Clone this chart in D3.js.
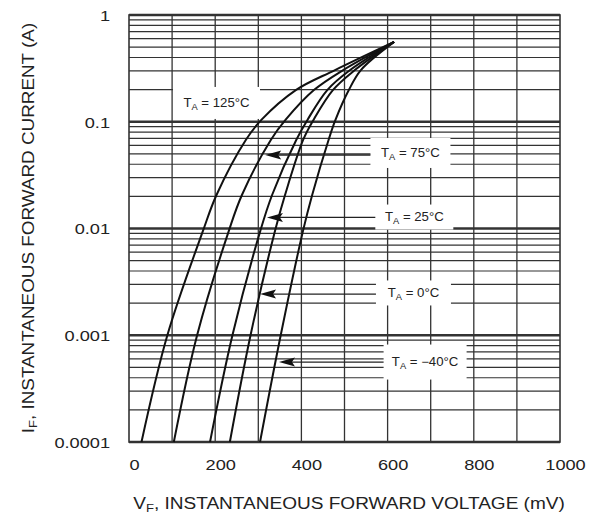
<!DOCTYPE html>
<html>
<head>
<meta charset="utf-8">
<script src="https://cdn.jsdelivr.net/npm/d3@7"></script>
<style>
  body { margin: 0; background: #fff; }
  svg { display: block; }
  text { font-family: "Liberation Sans", Arial, sans-serif; fill: #222; }
</style>
</head>
<body>
<svg id="chart" width="600" height="518"></svg>
<script>
// forward current levels (A) where each curve was read
const currents = [0.0001, 0.001, 0.0096, 0.0206, 0.0675, 0.104, 0.198, 0.305, 0.56]
// forward voltage (mV) of each curve at those currents
const vf125 = [29, 89, 172, 203, 271, 307, 387, 478, 615]
const vf75 = [104, 158, 232, 262, 329, 363, 429, 497, 615]
const vf25 = [188, 240, 305, 332, 388, 414, 460, 513, 615]
const vf0 = [234, 282, 339, 362, 404, 428, 473, 524, 615]
const vfm40 = [304, 352, 404, 425, 463, 479, 510, 538, 615]

const temps = ['125', '75', '25', '0', '\u221240']
const voltages = [vf125, vf75, vf25, vf0, vfm40]

const xTicks = [0, 200, 400, 600, 800, 1000]
const yTicks = [1, 0.1, 0.01, 0.001, 0.0001]

// label centre and arrow tip in data units (mV, A)
const labelAt = [[203, 0.15], [653, 0.051], [662, 0.0128], [660, 0.00249], [687, 0.000561]]
const arrowAt = [null, [316, 0.0488], [320, 0.0127], [304, 0.00243], [348, 0.000561]]
const boxSize = [[87, 32], [80, 30], [78, 25], [75, 25], [83, 35]]

const svg = d3.select('#chart')
svg.append('rect').attr('width', 600).attr('height', 518).attr('fill', '#fff')

const x = d3.scaleLinear().domain([0, 1000]).range([129, 560])
const y = d3.scaleLog().domain([0.0001, 1]).range([442, 15])

// grid
const minor = []
for (let e = -4; e < 0; e++) {
  for (let m = 2; m <= 9; m++) minor.push(m * Math.pow(10, e))
}
const grid = svg.append('g').attr('stroke', '#333')
grid.selectAll('line.h')
  .data(minor)
  .enter().append('line')
  .attr('x1', x(0)).attr('x2', x(1000))
  .attr('y1', d => y(d)).attr('y2', d => y(d))
  .attr('stroke-width', 1.2)
grid.selectAll('line.d')
  .data(yTicks)
  .enter().append('line')
  .attr('x1', x(0)).attr('x2', x(1000))
  .attr('y1', d => y(d)).attr('y2', d => y(d))
  .attr('stroke-width', 2.4)
grid.selectAll('line.v')
  .data(d3.range(100, 1000, 100))
  .enter().append('line')
  .attr('x1', d => x(d)).attr('x2', d => x(d))
  .attr('y1', y(1)).attr('y2', y(0.0001))
  .attr('stroke-width', 1.3)
svg.append('rect')
  .attr('x', x(0)).attr('y', y(1))
  .attr('width', x(1000) - x(0)).attr('height', y(0.0001) - y(1))
  .attr('fill', 'none').attr('stroke', '#333').attr('stroke-width', 1.6)

// white boxes behind the labels
svg.selectAll('rect.box')
  .data(temps)
  .enter().append('rect')
  .attr('x', (d, i) => x(labelAt[i][0]) - boxSize[i][0] / 2)
  .attr('y', (d, i) => y(labelAt[i][1]) - boxSize[i][1] / 2)
  .attr('width', (d, i) => boxSize[i][0])
  .attr('height', (d, i) => boxSize[i][1])
  .attr('fill', '#fff')

// curves
const line = d3.line()
  .x(d => x(d[0]))
  .y(d => y(d[1]))
  .curve(d3.curveCatmullRom.alpha(0.5))

svg.selectAll('path.curve')
  .data(voltages)
  .enter().append('path')
  .attr('d', v => line(v.map((mv, k) => [mv, currents[k]])))
  .attr('fill', 'none')
  .attr('stroke', '#111')
  .attr('stroke-width', 2)

// arrows and leaders
temps.forEach((t, i) => {
  const a = arrowAt[i]
  if (!a) return
  const tx = x(a[0]), ty = y(a[1])
  const boxLeft = x(labelAt[i][0]) - boxSize[i][0] / 2
  svg.append('line')
    .attr('x1', tx + 12).attr('x2', boxLeft)
    .attr('y1', ty).attr('y2', ty)
    .attr('stroke', '#222').attr('stroke-width', 1.3)
  svg.append('path')
    .attr('d', `M${tx},${ty} L${tx + 16},${ty - 4.5} L${tx + 13},${ty} L${tx + 16},${ty + 4.5} Z`)
    .attr('fill', '#111')
})

// labels
temps.forEach((t, i) => {
  const cx = x(labelAt[i][0]), cy = y(labelAt[i][1])
  const txt = svg.append('text')
    .attr('transform', `translate(${cx},${cy + 4}) scale(1.1,1)`)
    .attr('text-anchor', 'middle')
    .attr('font-size', 12)
  txt.append('tspan').text('T')
  txt.append('tspan').attr('dy', 3).attr('font-size', 8.5).text('A')
  txt.append('tspan').attr('dy', -3).text(` = ${t}\u00b0C`)
})

// axes
const xAxis = svg.append('g')
  .attr('transform', `translate(5,${y(0.0001)})`)
  .call(d3.axisBottom(x).tickValues(xTicks).tickSize(0).tickPadding(18).tickFormat(d3.format('d')))
xAxis.select('.domain').remove()
xAxis.selectAll('text')
  .attr('font-size', 14)
  .attr('fill', '#222')
  .attr('transform', 'scale(1.3,1)')

const yAxis = svg.append('g')
  .attr('transform', `translate(${x(0)},1)`)
  .call(d3.axisLeft(y).tickValues(yTicks).tickSize(0).tickPadding(14.6).tickFormat(d => String(d)))
yAxis.select('.domain').remove()
yAxis.selectAll('text')
  .attr('font-size', 14)
  .attr('fill', '#222')
  .attr('transform', 'scale(1.3,1)')

// axis titles
const xt = svg.append('text')
  .attr('transform', 'translate(349,509) scale(1.19,1)')
  .attr('text-anchor', 'middle')
  .attr('font-size', 16)
xt.append('tspan').text('V')
xt.append('tspan').attr('dy', 3).attr('font-size', 11).text('F')
xt.append('tspan').attr('dy', -3).text(', INSTANTANEOUS FORWARD VOLTAGE (mV)')

const yt = svg.append('text')
  .attr('transform', 'translate(34,228) rotate(-90) scale(1.18,1)')
  .attr('text-anchor', 'middle')
  .attr('font-size', 16)
yt.append('tspan').text('I')
yt.append('tspan').attr('dy', 3).attr('font-size', 11).text('F')
yt.append('tspan').attr('dy', -3).text(', INSTANTANEOUS FORWARD CURRENT (A)')
</script>
</body>
</html>
